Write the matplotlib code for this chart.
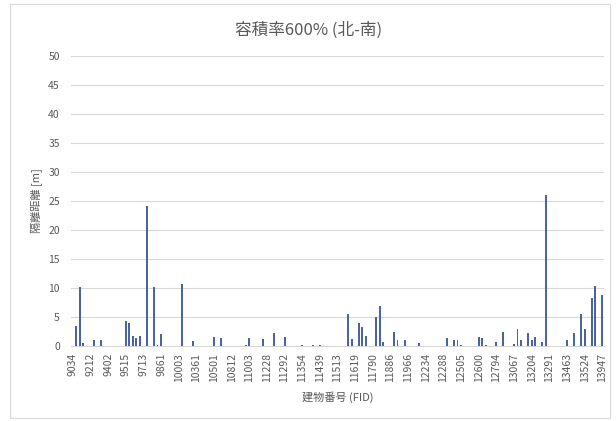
import numpy as np
import matplotlib
matplotlib.use("Agg")
import matplotlib.pyplot as plt
from matplotlib.patches import Rectangle

plt.rcParams['font.family'] = ['Noto Sans CJK JP', 'DejaVu Sans']

# 151 buildings, only every 5th FID is printed on the axis
tick_labels = ["9034", "9212", "9402", "9515", "9713", "9861", "10003", "10361",
               "10501", "10812", "11003", "11228", "11292", "11354", "11439",
               "11513", "11619", "11790", "11886", "11966", "12234", "12288",
               "12505", "12600", "12794", "13067", "13204", "13291", "13463",
               "13524", "13947"]

# separation distance [m] per building (in axis order)
distance = [
    0, 3.5, 10.2, 0.5, 0, 0, 1.0, 0, 1.0, 0,
    0, 0, 0, 0, 0, 4.3, 4.0, 1.7, 1.3, 1.7,
    0, 24.1, 0, 10.2, 0.2, 2.0, 0, 0, 0, 0,
    0, 10.7, 0, 0, 0.9, 0, 0, 0, 0, 0,
    1.6, 0, 1.4, 0, 0, 0, 0, 0, 0, 0.2,
    1.3, 0, 0, 0, 1.2, 0, 0, 2.2, 0, 0,
    1.6, 0, 0, 0, 0, 0.15, 0, 0, 0.15, 0,
    0.1, 0, 0, 0, 0, 0, 0, 0, 5.5, 1.2,
    0, 3.9, 3.3, 1.7, 0, 0, 5.0, 6.95, 0.7, 0,
    0, 2.4, 1.0, 0, 1.0, 0, 0, 0, 0.6, 0,
    0, 0, 0, 0, 0, 0, 1.4, 0, 1.0, 1.0,
    0.2, 0, 0, 0, 0, 1.6, 1.3, 0.2, 0, 0,
    0.7, 0, 2.5, 0, 0, 0.3, 3.0, 1.0, 0, 2.2,
    1.0, 1.6, 0, 0.65, 26.1, 0, 0, 0, 0, 0,
    1.0, 0, 2.2, 0, 5.5, 3.0, 0, 8.3, 10.3, 0,
    8.8,
]

x = np.arange(len(distance))

fig = plt.figure(figsize=(6.16, 4.21), dpi=100)
fig.patches.append(Rectangle((10/616, 3/421), 600/616, 414/421, transform=fig.transFigure,
                             fill=False, edgecolor="#D9D9D9", linewidth=0.8))
ax = fig.add_axes([71/616, 1 - 346/421, 533/616, 290/421])

ax.bar(x, distance, width=0.55, color="#4A64A0", zorder=3)

ax.set_xlim(-0.5, len(distance) - 0.5)
ax.set_ylim(0, 50)
ax.set_yticks(np.arange(0, 51, 5))
ax.set_xticks(x[::5])
ax.set_xticklabels(tick_labels, rotation=90)
ax.tick_params(axis="both", length=0, labelsize=7.5, colors="#595959")
ax.tick_params(axis="y", pad=8)
ax.tick_params(axis="x", pad=5)
ax.grid(axis="y", color="#D9D9D9", linewidth=0.8, zorder=0)
for s in ["top", "right", "left"]:
    ax.spines[s].set_visible(False)
ax.spines["bottom"].set_color("#D9D9D9")

fig.text(309/616, 1 - 30/421, "容積率600% (北-南)", fontsize=12, color="#595959",
         ha="center", va="center")
ax.set_ylabel("隔離距離 [m]", fontsize=8, color="#595959")
ax.set_xlabel("建物番号 (FID)", fontsize=8, color="#595959", labelpad=7)

fig.savefig("out.png", dpi=100)
